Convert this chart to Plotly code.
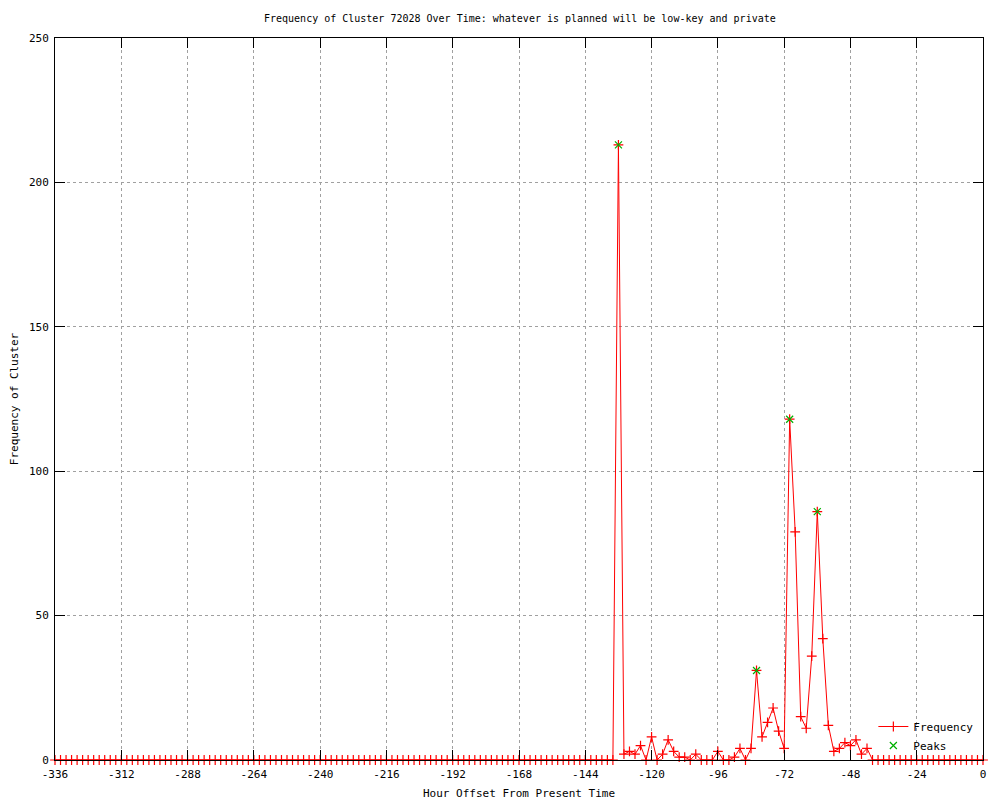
import plotly.graph_objects as go

# Hour offsets every 2 hours from -336 to 0
hours = list(range(-336, 1, 2))

# Non-zero frequencies (others are 0)
nonzero_hours = [-132, -130, -128, -126, -124, -120, -116, -114, -112, -110, -108, -104,
                 -96, -90, -88, -84, -82, -80, -78, -76, -74, -72, -70, -68, -66, -64,
                 -62, -60, -58, -56, -54, -52, -50, -48, -46, -44, -42]
nonzero_values = [213, 2, 3, 2, 5, 8, 2, 7, 3, 1, 1, 2,
                  3, 1, 4, 4, 31, 8, 13, 18, 10, 4, 118, 79, 15, 11,
                  36, 86, 42, 12, 3, 4, 6, 5, 7, 2, 4]

lookup = dict(zip(nonzero_hours, nonzero_values))
frequency = [lookup.get(h, 0) for h in hours]

peak_hours = [-132, -82, -70, -60]
peak_values = [213, 31, 118, 86]

x_tick_vals = list(range(-336, 1, 24))
x_tick_text = [str(v) for v in x_tick_vals]
y_tick_vals = [0, 50, 100, 150, 200, 250]
y_tick_text = [str(v) for v in y_tick_vals]

FONT = "DejaVu Sans Mono"

fig = go.Figure()
fig.add_trace(go.Scatter(
    x=hours, y=frequency, name="Frequency", mode="lines+markers",
    line=dict(color="#ff0000", width=1),
    marker=dict(symbol="cross-thin", size=7, line=dict(color="#ff0000", width=1.2)),
    cliponaxis=False,
))
fig.add_trace(go.Scatter(
    x=peak_hours, y=peak_values, name="Peaks", mode="markers",
    marker=dict(symbol="x-thin", size=7, line=dict(color="#00b000", width=1.2)),
    cliponaxis=False,
))

axis_common = dict(
    showline=True, linecolor="black", linewidth=1, mirror="ticks",
    ticks="inside", ticklen=10, tickcolor="black",
    showgrid=True, gridcolor="#a0a0a0", griddash="dot", gridwidth=1,
    zeroline=False, automargin=False,
    tickfont=dict(family=FONT, size=11, color="black"),
)

fig.update_layout(
    width=992, height=792,
    margin=dict(l=47, r=17, t=30, b=40),
    paper_bgcolor="white", plot_bgcolor="white",
    font=dict(family=FONT, size=11, color="black"),
    title=dict(text="Frequency of Cluster 72028 Over Time: whatever is planned will be low-key and private",
               x=0.516, xanchor="center", y=0.987, yanchor="middle", yref="container",
               automargin=False,
               font=dict(family=FONT, size=10, color="black")),
    xaxis=dict(range=[-336, 0], tickmode="array", tickvals=x_tick_vals, ticktext=x_tick_text,
               ticklabelstandoff=4,
               title=dict(text="Hour Offset From Present Time", standoff=9,
                          font=dict(family=FONT, size=11)),
               **axis_common),
    yaxis=dict(range=[0, 250], tickmode="array", tickvals=y_tick_vals, ticktext=y_tick_text,
               ticklabelstandoff=3,
               title=dict(text="Frequency of Cluster", standoff=15,
                          font=dict(family=FONT, size=11)),
               **axis_common),
    legend=dict(x=0.995, y=0.0, xanchor="right", yanchor="bottom",
                bgcolor="rgba(0,0,0,0)", font=dict(family=FONT, size=11),
                tracegroupgap=0, itemsizing="trace"),
    showlegend=True,
)

fig.write_html("out.html")
